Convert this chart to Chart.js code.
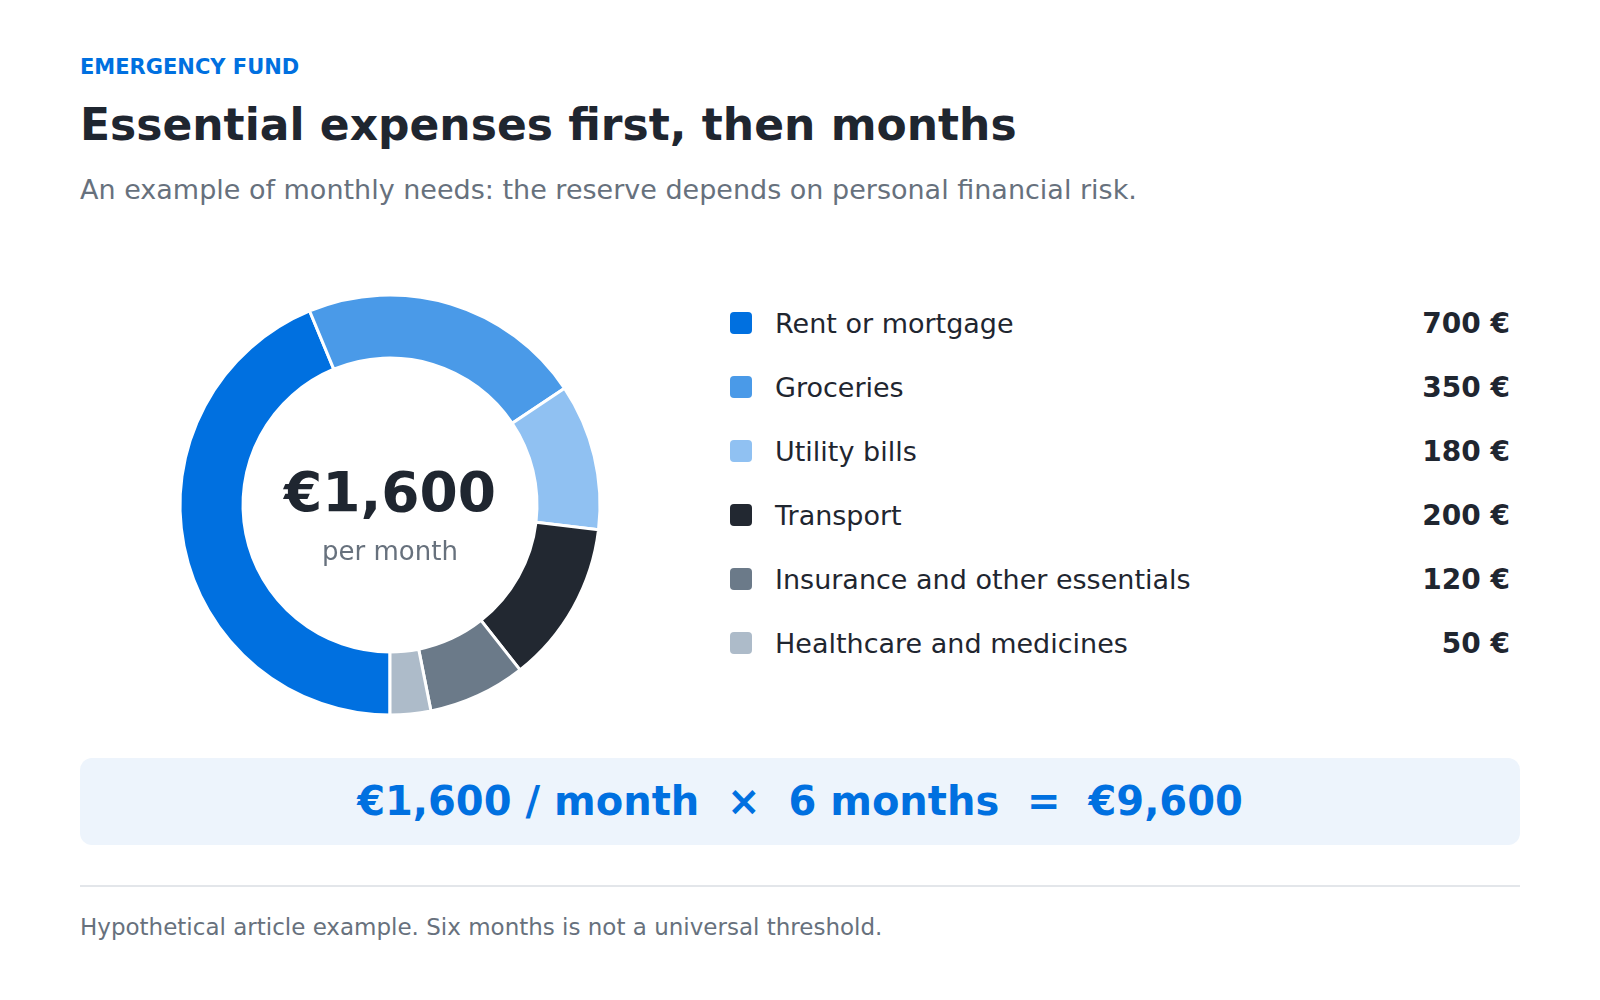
<!DOCTYPE html>
<html>
<head>
<meta charset="utf-8">
<script src="https://cdn.jsdelivr.net/npm/chart.js@4"></script>
<style>
    html, body { margin: 0; padding: 0; background: #ffffff; }
    body { width: 1600px; height: 1000px; position: relative; font-family: "DejaVu Sans", sans-serif; overflow: hidden; }
    .abs { position: absolute; white-space: nowrap; }
    #kicker { left: 80px; top: 55px; font-size: 21px; font-weight: bold; color: #0070e0; line-height: 24px; }
    #title { left: 80px; top: 98px; font-size: 44px; font-weight: bold; color: #1f2630; line-height: 54px; }
    #subtitle { left: 80px; top: 174px; font-size: 27px; color: #67717d; line-height: 32px; }
    #chart-box { left: 170px; top: 285px; width: 440px; height: 440px; }
    #legend { left: 730px; top: 291px; width: 780px; }
    .row { position: relative; height: 64px; display: flex; align-items: center; }
    .swatch { width: 22px; height: 22px; border-radius: 4px; margin-right: 23px; flex: none; }
    .label { font-size: 27px; color: #1f2630; flex: 1; }
    .value { font-size: 28px; font-weight: bold; color: #1f2630; }
    #formula { left: 80px; top: 758px; width: 1440px; height: 87px; background: #edf4fc; border-radius: 12px; text-align: center; line-height: 87px; font-size: 40px; font-weight: bold; color: #0070e0; white-space: pre; }
    #rule { left: 80px; top: 885px; width: 1440px; height: 2px; background: #e3e6ea; }
    #note { left: 80px; top: 913px; font-size: 23px; color: #67717d; line-height: 28px; }
</style>
</head>
<body>
<div class="abs" id="kicker">EMERGENCY FUND</div>
<div class="abs" id="title">Essential expenses first, then months</div>
<div class="abs" id="subtitle">An example of monthly needs: the reserve depends on personal financial risk.</div>
<div class="abs" id="chart-box"><canvas id="donut"></canvas></div>
<div class="abs" id="legend"></div>
<div class="abs" id="formula"></div>
<div class="abs" id="rule"></div>
<div class="abs" id="note">Hypothetical article example. Six months is not a universal threshold.</div>

<script>
// 数据
const categories = ['Rent or mortgage', 'Groceries', 'Utility bills', 'Transport', 'Insurance and other essentials', 'Healthcare and medicines'];
const amounts = [700, 350, 180, 200, 120, 50];
const sliceColors = ['#0070e0', '#4a9ae8', '#90c1f2', '#222831', '#6b7a89', '#adbbc9'];
const months = 6;

const monthlyTotal = amounts.reduce((a, b) => a + b, 0);
const fmt = n => '€' + n.toLocaleString('en-US');

// 中心文字插件
const centerText = {
    id: 'centerText',
    afterDraw(chart) {
        const ctx = chart.ctx;
        const meta = chart.getDatasetMeta(0).data[0];
        if (!meta) return;
        const x = meta.x, y = meta.y;
        ctx.save();
        ctx.textAlign = 'center';
        ctx.textBaseline = 'alphabetic';
        ctx.fillStyle = '#1f2630';
        ctx.font = 'bold 55px "DejaVu Sans"';
        ctx.fillText(fmt(monthlyTotal), x, y + 6);
        ctx.fillStyle = '#67717d';
        ctx.font = '26px "DejaVu Sans"';
        ctx.fillText('per month', x, y + 55);
        ctx.restore();
    }
};

new Chart(document.getElementById('donut'), {
    type: 'doughnut',
    data: {
        labels: categories,
        datasets: [{
            data: amounts,
            backgroundColor: sliceColors,
            borderColor: '#ffffff',
            borderWidth: 3
        }]
    },
    options: {
        responsive: true,
        maintainAspectRatio: false,
        animation: false,
        rotation: 180,
        radius: 210,
        cutout: '70%',
        plugins: {
            legend: { display: false },
            tooltip: { enabled: false }
        }
    },
    plugins: [centerText]
});

// 自定义图例
const legend = document.getElementById('legend');
categories.forEach((name, i) => {
    const row = document.createElement('div');
    row.className = 'row';
    row.innerHTML = `<span class="swatch" style="background:${sliceColors[i]}"></span>` +
        `<span class="label">${name}</span><span class="value">${amounts[i]} €</span>`;
    legend.appendChild(row);
});

document.getElementById('formula').textContent =
    `${fmt(monthlyTotal)} / month  ×  ${months} months  =  ${fmt(monthlyTotal * months)}`;
</script>
</body>
</html>
